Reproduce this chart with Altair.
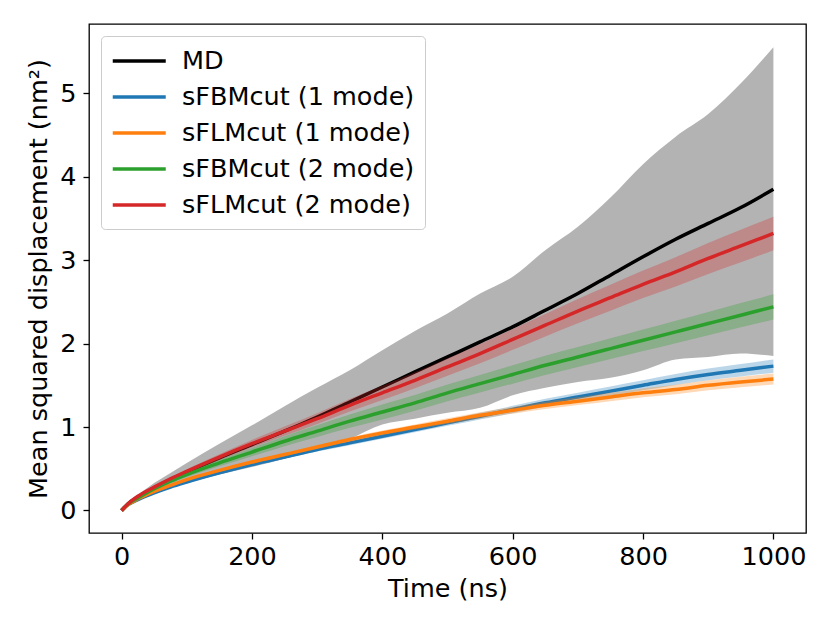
import altair as alt
import pandas as pd

# ---- data ----
T = [0, 10, 25, 50, 75, 100, 150, 200, 250, 300, 350, 400, 450, 500, 550,
     600, 650, 700, 750, 800, 850, 900, 950, 1000]

md = [0, 0.08, 0.16, 0.27, 0.37, 0.46, 0.63, 0.79, 0.95, 1.12, 1.30, 1.48,
      1.66, 1.84, 2.02, 2.20, 2.40, 2.60, 2.82, 3.04, 3.25, 3.44, 3.63, 3.85]
md_upper = [0, 0.10, 0.19, 0.33, 0.45, 0.57, 0.80, 1.02, 1.25, 1.47, 1.68, 1.92,
            2.15, 2.36, 2.60, 2.80, 3.12, 3.40, 3.75, 4.15, 4.48, 4.75, 5.12, 5.55]
md_lower = [0, 0.06, 0.12, 0.20, 0.27, 0.33, 0.43, 0.52, 0.62, 0.73, 0.86, 1.03,
            1.10, 1.17, 1.23, 1.38, 1.47, 1.54, 1.59, 1.68, 1.81, 1.84, 1.88, 1.85]

fbm1 = [0, 0.07, 0.13, 0.21, 0.28, 0.34, 0.45, 0.55, 0.64, 0.73, 0.81, 0.89,
        0.97, 1.05, 1.13, 1.21, 1.29, 1.36, 1.43, 1.50, 1.57, 1.63, 1.68, 1.73]
fbm1_hw = [0, 0.003, 0.005, 0.008, 0.01, 0.012, 0.015, 0.018, 0.021, 0.024, 0.027, 0.03,
           0.033, 0.036, 0.04, 0.044, 0.048, 0.052, 0.056, 0.06, 0.065, 0.07, 0.075, 0.08]

flm1 = [0, 0.07, 0.14, 0.23, 0.30, 0.37, 0.48, 0.58, 0.67, 0.76, 0.85, 0.93,
        1.00, 1.07, 1.14, 1.20, 1.26, 1.31, 1.36, 1.41, 1.45, 1.50, 1.54, 1.575]
flm1_hw = [0, 0.003, 0.005, 0.008, 0.01, 0.012, 0.015, 0.018, 0.02, 0.023, 0.026, 0.028,
           0.031, 0.034, 0.037, 0.04, 0.043, 0.046, 0.05, 0.053, 0.056, 0.06, 0.063, 0.066]

fbm2 = [0, 0.08, 0.15, 0.26, 0.35, 0.43, 0.57, 0.70, 0.83, 0.95, 1.07, 1.18,
        1.29, 1.41, 1.52, 1.63, 1.74, 1.84, 1.94, 2.04, 2.14, 2.24, 2.34, 2.44]
fbm2_hw = [0, 0.005, 0.01, 0.02, 0.025, 0.03, 0.04, 0.05, 0.06, 0.07, 0.08, 0.09,
           0.095, 0.10, 0.105, 0.11, 0.115, 0.12, 0.125, 0.13, 0.135, 0.14, 0.145, 0.15]

flm2 = [0, 0.08, 0.17, 0.28, 0.38, 0.47, 0.64, 0.80, 0.95, 1.10, 1.26, 1.41,
        1.56, 1.72, 1.88, 2.05, 2.22, 2.39, 2.55, 2.71, 2.86, 3.02, 3.17, 3.32]
flm2_hw = [0, 0.005, 0.01, 0.015, 0.02, 0.025, 0.035, 0.045, 0.055, 0.065, 0.075, 0.085,
           0.095, 0.105, 0.115, 0.125, 0.135, 0.145, 0.155, 0.165, 0.175, 0.185, 0.195, 0.20]

names = ["MD", "sFBMcut (1 mode)", "sFLMcut (1 mode)", "sFBMcut (2 mode)", "sFLMcut (2 mode)"]
colors = ["#000000", "#1f77b4", "#ff7f0e", "#2ca02c", "#d62728"]
x_ticks = [0, 200, 400, 600, 800, 1000]
y_ticks = [0, 1, 2, 3, 4, 5]

FONT = "DejaVu Sans"
FS = 25.5

xscale = alt.Scale(domain=[-50, 1050], nice=False, zero=False)
yscale = alt.Scale(domain=[-0.27, 5.83], nice=False, zero=False)
cscale = alt.Scale(domain=names, range=colors)

xax = alt.Axis(title="Time (ns)", values=x_ticks, grid=False, tickSize=6,
               labelPadding=5, titlePadding=7, format="d")
yax = alt.Axis(title="Mean squared displacement (nm²)", values=y_ticks, grid=False,
               tickSize=6, labelPadding=7, titlePadding=8, format="d")

legend = alt.Legend(title=None, orient="top-left", offset=12, padding=10,
                    strokeColor="#cccccc", cornerRadius=4,
                    fillColor="rgba(255,255,255,0.8)", symbolType="M-1,0H3",
                    symbolSize=702, symbolStrokeWidth=3.5, labelFontSize=FS,
                    labelOffset=41, rowPadding=7, labelFont=FONT,
                    labelLimit=500, labelColor="#000000")

md_df = pd.DataFrame({"t": T, "lo": md_lower, "hi": md_upper})
band_md = alt.Chart(md_df).mark_area(color="gray", opacity=0.6, interpolate="monotone").encode(
    x=alt.X("t:Q", scale=xscale, axis=xax),
    y=alt.Y("hi:Q", scale=yscale, axis=yax),
    y2="lo:Q",
)

def line_layer(name, vals):
    df = pd.DataFrame({"t": T, "v": vals, "series": name})
    return alt.Chart(df).mark_line(strokeWidth=3.5, interpolate="monotone").encode(
        x=alt.X("t:Q", scale=xscale, axis=xax),
        y=alt.Y("v:Q", scale=yscale, axis=yax),
        color=alt.Color("series:N", scale=cscale, legend=legend),
    )

def band_layer(vals, hw, col):
    df = pd.DataFrame({"t": T, "lo": [a - b for a, b in zip(vals, hw)],
                       "hi": [a + b for a, b in zip(vals, hw)]})
    return alt.Chart(df).mark_area(color=col, opacity=0.3, interpolate="monotone").encode(
        x=alt.X("t:Q", scale=xscale, axis=xax),
        y=alt.Y("hi:Q", scale=yscale, axis=yax),
        y2="lo:Q",
    )

layers = [band_md, line_layer(names[0], md)]
for nm, vals, hw, col in [(names[1], fbm1, fbm1_hw, colors[1]),
                          (names[2], flm1, flm1_hw, colors[2]),
                          (names[3], fbm2, fbm2_hw, colors[3]),
                          (names[4], flm2, flm2_hw, colors[4])]:
    layers.append(band_layer(vals, hw, col))
    layers.append(line_layer(nm, vals))

chart = alt.layer(*layers).properties(
    width=717, height=509,
    autosize=alt.AutoSizeParams(type="none"),
    padding={"left": 81, "top": 16, "right": 10, "bottom": 70},
).configure_view(
    stroke="#000000", strokeWidth=1.3,
).configure_axis(
    labelFont=FONT, titleFont=FONT, labelFontSize=FS, titleFontSize=FS,
    labelColor="#000000", titleColor="#000000", titleFontWeight="normal",
    tickColor="#000000", tickWidth=1.3, domain=False,
)

chart.save("out.html", embed_options={"renderer": "svg", "actions": False})
